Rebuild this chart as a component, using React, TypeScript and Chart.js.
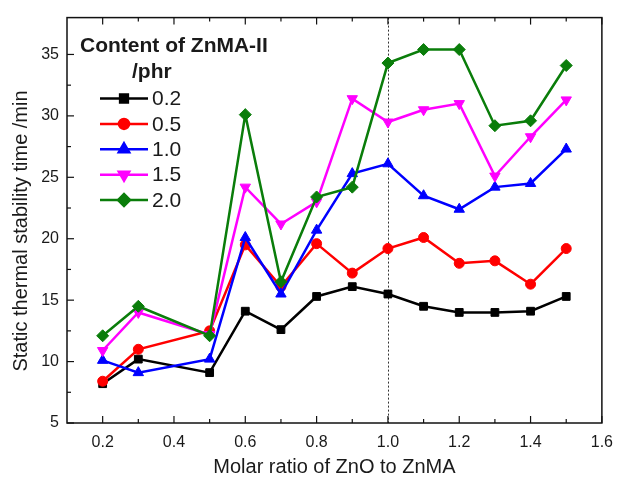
import React, { useEffect, useRef } from 'react';
import { Chart, registerables } from 'chart.js';
import { drawPoint } from 'chart.js/helpers';

Chart.register(...registerables);

// ---- data ----
const xValues = [0.2, 0.3, 0.5, 0.6, 0.7, 0.8, 0.9, 1.0, 1.1, 1.2, 1.3, 1.4, 1.5];
const series02 = [8.2, 10.2, 9.1, 14.1, 12.6, 15.3, 16.1, 15.5, 14.5, 14.0, 14.0, 14.1, 15.3];
const series05 = [8.4, 11.0, 12.5, 19.5, 16.1, 19.6, 17.2, 19.2, 20.1, 18.0, 18.2, 16.3, 19.2];
const series10 = [10.1, 9.1, 10.2, 20.1, 15.5, 20.7, 25.3, 26.1, 23.5, 22.4, 24.2, 24.5, 27.3];
const series15 = [10.9, 14.0, 12.2, 24.2, 21.2, 23.0, 31.4, 29.5, 30.5, 31.0, 25.1, 28.3, 31.3];
const series20 = [12.1, 14.5, 12.1, 30.1, 16.5, 23.4, 24.2, 34.3, 35.4, 35.4, 29.2, 29.6, 34.1];

const seriesLabels = ['0.2', '0.5', '1.0', '1.5', '2.0'];
const legendTitle = ['Content of ZnMA-II', '/phr'];
const xTitle = 'Molar ratio of ZnO to ZnMA';
const yTitle = 'Static thermal stability time /min';

const xTickValues = [0.2, 0.4, 0.6, 0.8, 1.0, 1.2, 1.4, 1.6];
const xMinorTicks = [0.3, 0.5, 0.7, 0.9, 1.1, 1.3, 1.5];
const yTickValues = [5, 10, 15, 20, 25, 30, 35];
const yMinorTicks = [7.5, 12.5, 17.5, 22.5, 27.5, 32.5];
const refLineX = 1.0;

const FONT = "'Liberation Sans', Arial, Helvetica, sans-serif";
const TEXT = '#1a1a1a';

const styles = [
  { color: '#000000', pointStyle: 'rect', radius: 5.5, rotation: 0 },
  { color: '#ff0000', pointStyle: 'circle', radius: 5, rotation: 0 },
  { color: '#0000ff', pointStyle: 'triangle', radius: 6, rotation: 0 },
  { color: '#ff00ff', pointStyle: 'triangle', radius: 6, rotation: 180 },
  { color: '#0a7d0a', pointStyle: 'rectRot', radius: 6, rotation: 0 },
];

const allSeries = [series02, series05, series10, series15, series20];

const overlay = {
  id: 'overlay',
  beforeDatasetsDraw(chart: any) {
    const { ctx, chartArea: a, scales } = chart;
    const px = Math.round(scales.x.getPixelForValue(refLineX)) + 0.5;
    ctx.save();
    ctx.strokeStyle = '#333';
    ctx.lineWidth = 1;
    ctx.setLineDash([2, 2]);
    ctx.beginPath();
    ctx.moveTo(px, a.top);
    ctx.lineTo(px, a.bottom);
    ctx.stroke();
    ctx.restore();
  },
  afterDraw(chart: any) {
    const { ctx, chartArea: a, scales } = chart;
    const x = scales.x;
    const y = scales.y;
    ctx.save();
    ctx.strokeStyle = '#111';
    ctx.lineWidth = 1.5;
    // frame
    ctx.strokeRect(a.left, a.top, a.right - a.left, a.bottom - a.top);
    ctx.lineWidth = 1.2;
    const line = (x1: number, y1: number, x2: number, y2: number) => {
      ctx.beginPath();
      ctx.moveTo(x1, y1);
      ctx.lineTo(x2, y2);
      ctx.stroke();
    };
    xTickValues.forEach((v) => {
      const p = x.getPixelForValue(v);
      line(p, a.bottom, p, a.bottom - 7);
      line(p, a.top, p, a.top + 7);
    });
    xMinorTicks.forEach((v) => {
      const p = x.getPixelForValue(v);
      line(p, a.bottom, p, a.bottom - 4);
      line(p, a.top, p, a.top + 4);
    });
    yTickValues.forEach((v) => {
      const p = y.getPixelForValue(v);
      line(a.left, p, a.left + 7, p);
    });
    yMinorTicks.forEach((v) => {
      const p = y.getPixelForValue(v);
      line(a.left, p, a.left + 4, p);
    });

    // y title
    ctx.save();
    ctx.translate(21, 231);
    ctx.rotate(-Math.PI / 2);
    ctx.fillStyle = TEXT;
    ctx.font = `20px ${FONT}`;
    ctx.textAlign = 'center';
    ctx.textBaseline = 'middle';
    ctx.fillText(yTitle, 0, 0);
    ctx.restore();

    // legend
    ctx.fillStyle = TEXT;
    ctx.font = `bold 21px ${FONT}`;
    ctx.textAlign = 'left';
    ctx.textBaseline = 'middle';
    ctx.fillText(legendTitle[0], 80, 46);
    ctx.fillText(legendTitle[1], 132, 72);
    chart.data.datasets.forEach((ds: any, i: number) => {
      const cy = 98.5 + i * 25.4;
      ctx.strokeStyle = ds.borderColor;
      ctx.fillStyle = ds.backgroundColor;
      ctx.lineWidth = ds.borderWidth;
      line(100, cy, 148, cy);
      drawPoint(ctx, { pointStyle: ds.pointStyle, radius: ds.pointRadius, rotation: ds.pointRotation, borderWidth: 1 }, 124, cy);
      ctx.fillStyle = TEXT;
      ctx.font = `21px ${FONT}`;
      ctx.fillText(ds.label, 152, cy + 1);
    });
    ctx.restore();
  },
};

export default function App() {
  const ref = useRef<HTMLCanvasElement | null>(null);
  useEffect(() => {
    if (!ref.current) return;
    const datasets = allSeries.map((s, i) => ({
      label: seriesLabels[i],
      data: s.map((v, j) => ({ x: xValues[j], y: v })),
      borderColor: styles[i].color,
      backgroundColor: styles[i].color,
      pointBackgroundColor: styles[i].color,
      pointBorderColor: styles[i].color,
      borderWidth: 2.5,
      pointBorderWidth: 1,
      pointStyle: styles[i].pointStyle,
      pointRadius: styles[i].radius,
      pointRotation: styles[i].rotation,
      tension: 0,
      order: 5 - i,
    }));
    const chart = new Chart(ref.current, {
      type: 'line',
      data: { datasets },
      plugins: [overlay],
      options: {
        animation: false,
        responsive: false,
        maintainAspectRatio: false,
        layout: { padding: { top: 13, right: 14, left: 0, bottom: 0 } },
        plugins: { legend: { display: false }, tooltip: { enabled: false } },
        scales: {
          x: {
            type: 'linear',
            min: 0.1,
            max: 1.6,
            grid: { display: false, drawTicks: false },
            border: { display: false },
            afterBuildTicks: (s: any) => {
              s.ticks = xTickValues.map((v) => ({ value: v }));
            },
            afterFit: (s: any) => {
              s.height = 54;
            },
            ticks: {
              callback: (v: any) => Number(v).toFixed(1),
              font: { family: FONT, size: 16 },
              color: TEXT,
              padding: 10,
              maxRotation: 0,
              autoSkip: false,
            },
            title: {
              display: true,
              text: xTitle,
              font: { family: FONT, size: 20, lineHeight: 1 },
              color: TEXT,
              padding: { top: 0, bottom: 0 },
            },
          },
          y: {
            type: 'linear',
            min: 5,
            max: 38,
            grid: { display: false, drawTicks: false },
            border: { display: false },
            afterBuildTicks: (s: any) => {
              s.ticks = yTickValues.map((v) => ({ value: v }));
            },
            afterFit: (s: any) => {
              s.width = 67;
            },
            ticks: {
              callback: (v: any) => String(v),
              font: { family: FONT, size: 16 },
              color: TEXT,
              padding: 8,
              autoSkip: false,
            },
          },
        },
      },
    });
    return () => chart.destroy();
  }, []);
  return (
    <div style={{ position: 'absolute', left: 0, top: 0, width: 623, height: 477, background: '#fff' }}>
      <canvas ref={ref} width={623} height={477} />
    </div>
  );
}
